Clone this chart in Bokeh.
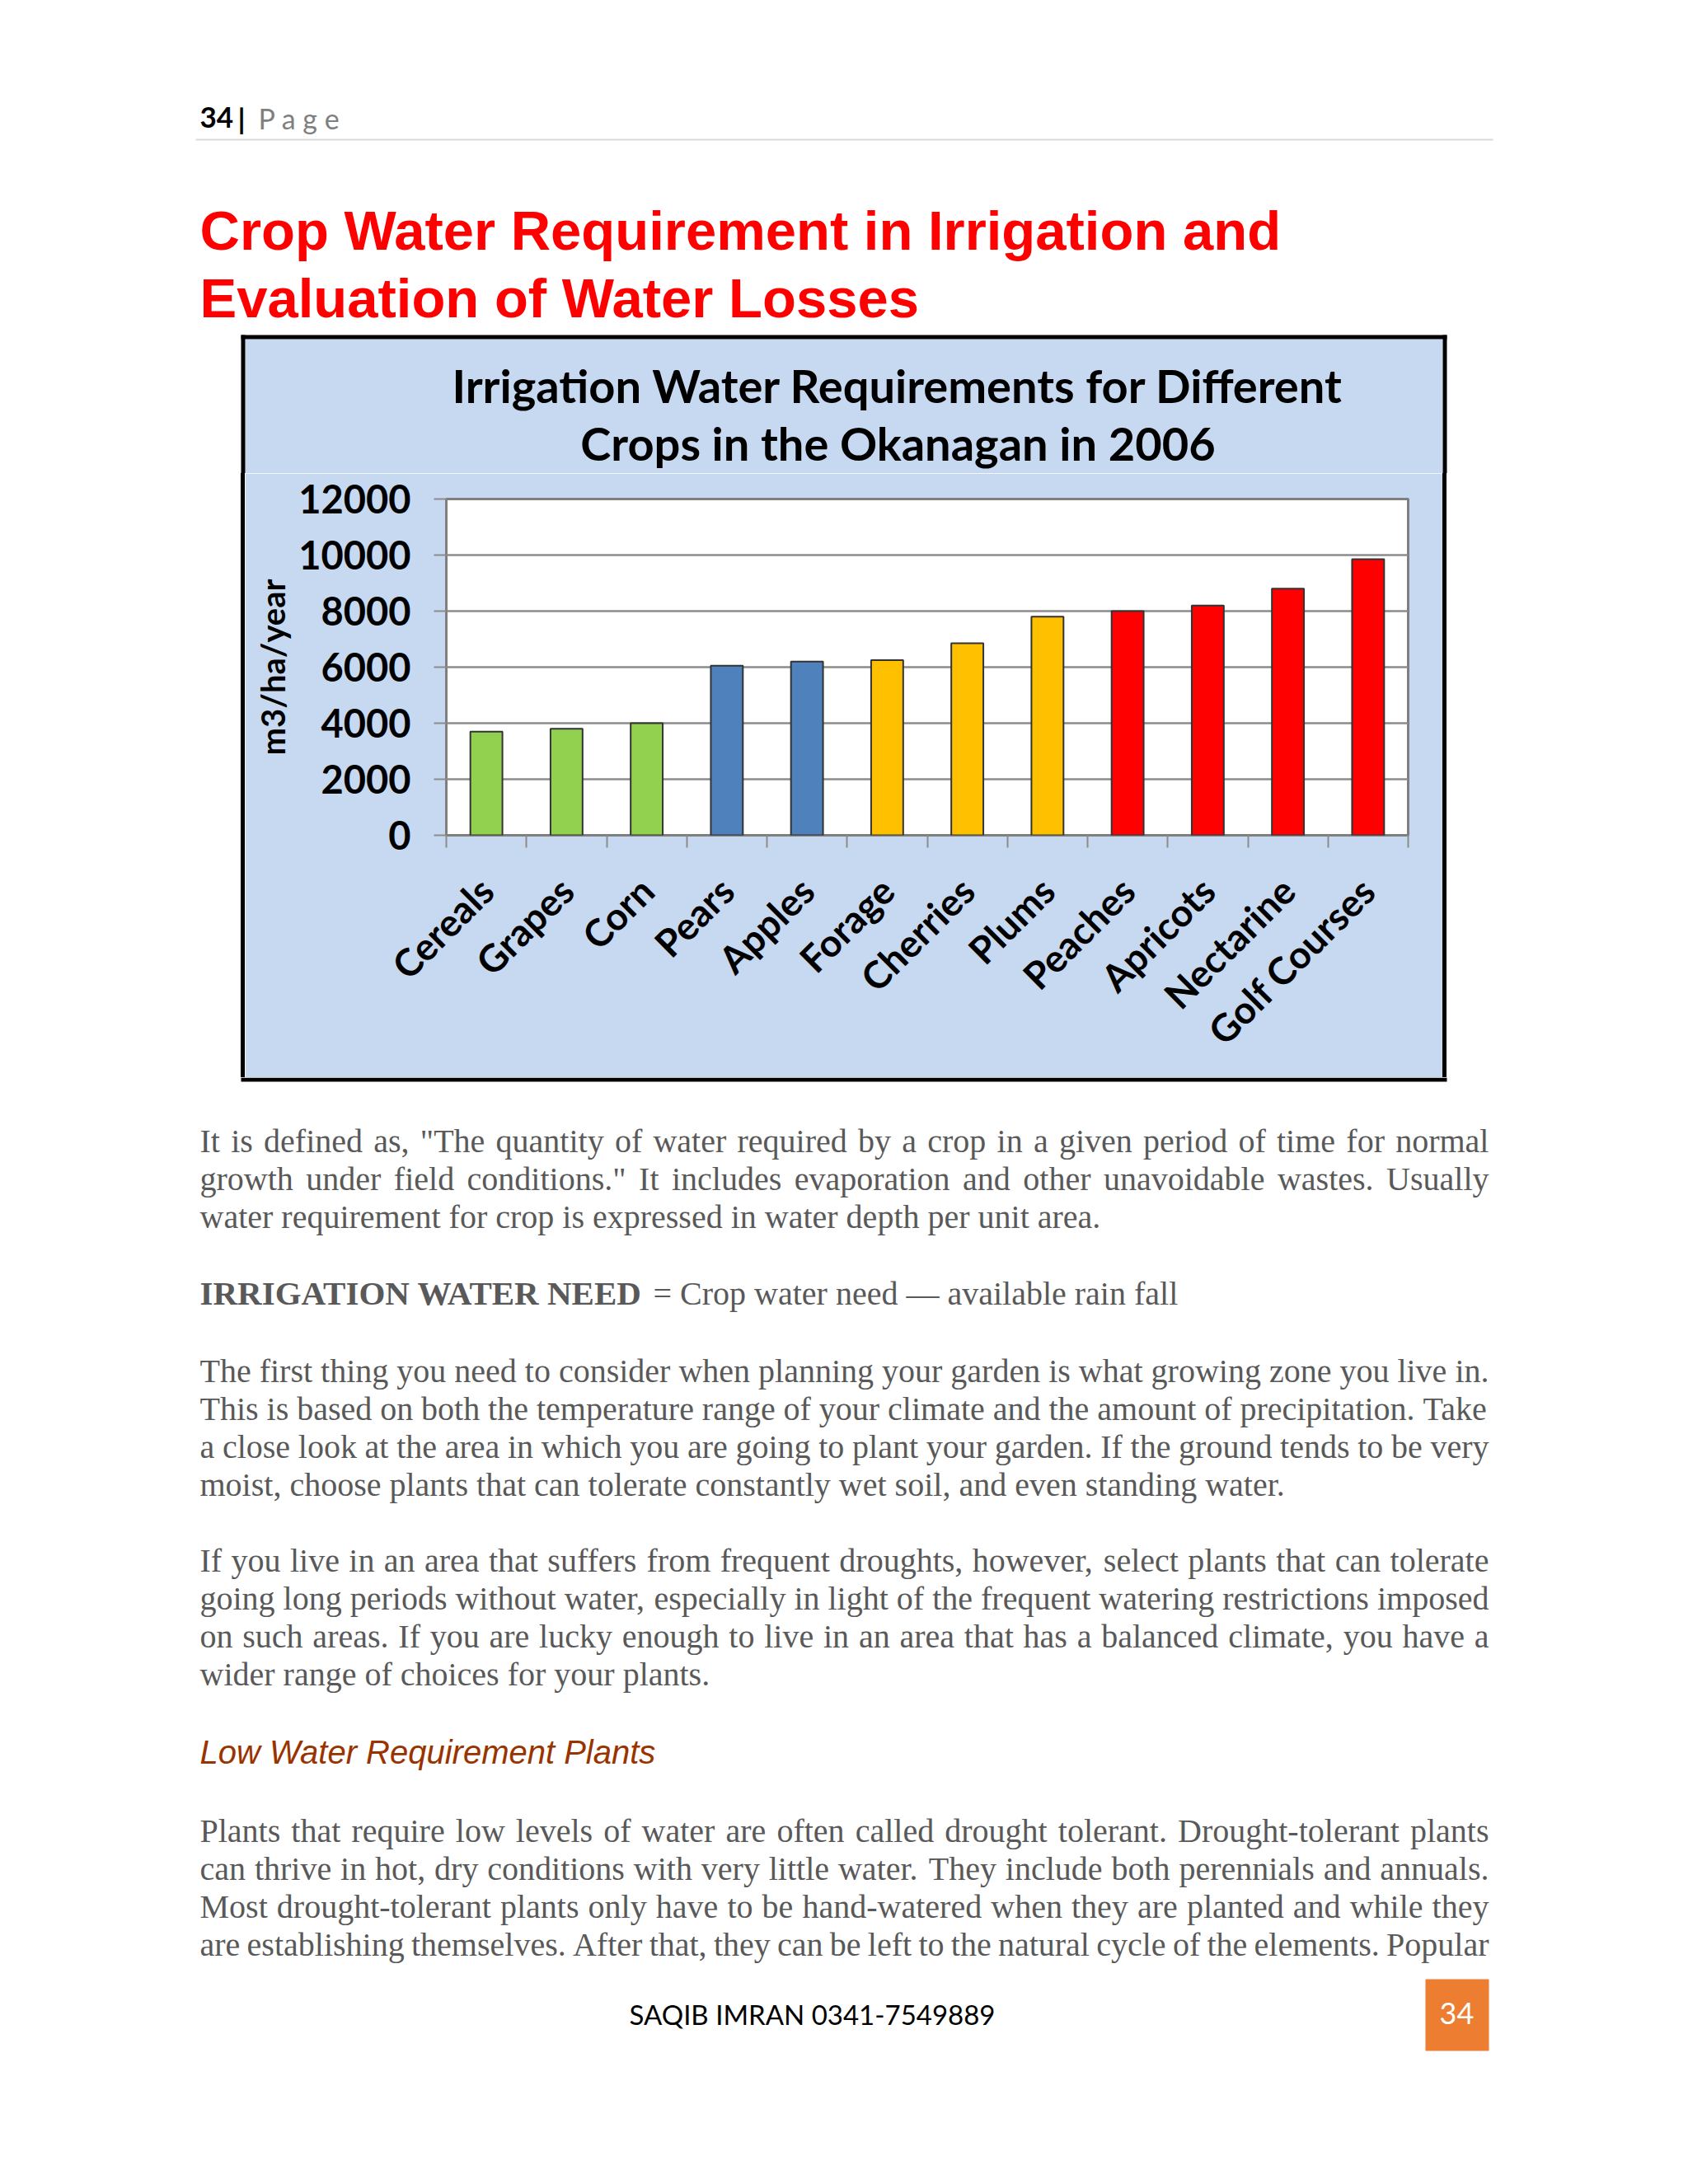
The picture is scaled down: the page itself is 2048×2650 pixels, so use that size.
from math import pi
from bokeh.plotting import figure
from bokeh.layouts import column, row
from bokeh.models import Range1d, LinearAxis, FixedTicker, Label, ColumnDataSource, Spacer
from bokeh.embed import file_html
from bokeh.resources import INLINE

# ---------------- data ----------------
crops = ["Cereals", "Grapes", "Corn", "Pears", "Apples", "Forage",
         "Cherries", "Plums", "Peaches", "Apricots", "Nectarine", "Golf Courses"]
water = [3700, 3800, 4000, 6050, 6200, 6250, 6850, 7800, 8000, 8200, 8800, 9850]
bar_colors = ["#92D050", "#92D050", "#92D050", "#4F81BD", "#4F81BD", "#FFC000",
              "#FFC000", "#FFC000", "#FF0000", "#FF0000", "#FF0000", "#FF0000"]
y_ticks = [0, 2000, 4000, 6000, 8000, 10000, 12000]
chart_title = ["Irrigation Water Requirements for Different",
               "Crops in the Okanagan in 2006"]
y_label = "m3/ha/year"

page_title = ["Crop Water Requirement in Irrigation and",
              "Evaluation of Water Losses"]
para1 = ['It is defined as, "The quantity of water required by a crop in a given period of time for normal',
         'growth under field conditions." It includes evaporation and other unavoidable wastes. Usually',
         'water requirement for crop is expressed in water depth per unit area.']
need_bold = "IRRIGATION WATER NEED"
need_rest = "= Crop water need \u2014 available rain fall"
para2 = ["The first thing you need to consider when planning your garden is what growing zone you live in.",
         "This is based on both the temperature range of your climate and the amount of precipitation. Take",
         "a close look at the area in which you are going to plant your garden. If the ground tends to be very",
         "moist, choose plants that can tolerate constantly wet soil, and even standing water."]
para3 = ["If you live in an area that suffers from frequent droughts, however, select plants that can tolerate",
         "going long periods without water, especially in light of the frequent watering restrictions imposed",
         "on such areas. If you are lucky enough to live in an area that has a balanced climate, you have a",
         "wider range of choices for your plants."]
heading = "Low Water Requirement Plants"
para4 = ["Plants that require low levels of water are often called drought tolerant. Drought-tolerant plants",
         "can thrive in hot, dry conditions with very little water. They include both perennials and annuals.",
         "Most drought-tolerant plants only have to be hand-watered when they are planted and while they",
         "are establishing themselves. After that, they can be left to the natural cycle of the elements. Popular"]
footer = "SAQIB IMRAN 0341-7549889"
page_no = "34"

# ---------------- page geometry (page pixels) ----------------
PW = 2048
BX0, BY0, BX1, BY1 = 292, 406, 1755, 1312   # chart box outer edge
BW = 5                                       # black border width
SPLIT1, SPLIT2, PAGE_END = 574, BY1 - BW, 2640
FL, FR, FT, FB = 541, 1708, 605, 1013        # plot area
BLUE = "#C6D9F1"
GRID = "#8c8c8c"
BASE_SHIFT = 0.36   # baseline correction (fraction of font size)


def page_fig(x0, x1, y0, y1):
    f = figure(width=x1 - x0, height=y1 - y0, x_range=Range1d(x0, x1), y_range=Range1d(y1, y0),
               x_axis_type=None, y_axis_type=None, toolbar_location=None,
               output_backend="svg", min_border=0, title=None)
    f.outline_line_color = None
    f.background_fill_color = "white"
    f.border_fill_color = "white"
    return f


def add_text(f, x, y, text, font, size, color, style="normal", align="left"):
    f.add_layout(Label(x=x, y=y - BASE_SHIFT * size, text=text, text_font=font,
                       text_font_size=f"{size}px",
                       text_color=color, text_font_style=style,
                       text_align=align, text_baseline="alphabetic"))


def add_rect(f, x0, y0, x1, y1, color):
    f.quad(left=x0, right=x1, top=y0, bottom=y1, fill_color=color, line_color=None)


# ---------------- top part of page ----------------
top = page_fig(0, PW, 0, SPLIT1)
add_text(top, 242, 155, "34", "Lato", 35, "black", "bold")
add_text(top, 288, 155, "|", "Lato", 35, "black", "bold")
add_text(top, 313, 155, "P a g e", "Lato", 34, "#7f7f7f")
add_rect(top, 237, 168, 1811, 170, "#D9D9D9")
add_text(top, 242, 303, page_title[0], "Liberation Sans", 67, "#FF0000", "bold")
add_text(top, 242, 385, page_title[1], "Liberation Sans", 67, "#FF0000", "bold")
# chart box: upper part
add_rect(top, BX0 + BW, BY0 + BW, BX1 - BW, SPLIT1, BLUE)
add_rect(top, BX0, BY0, BX1, BY0 + BW, "black")
add_rect(top, BX0, BY0, BX0 + BW, SPLIT1, "black")
add_rect(top, BX1 - BW, BY0, BX1, SPLIT1, "black")
add_text(top, 1089, 487, chart_title[0], "Lato", 56, "black", "bold", "center")
add_text(top, 1089, 557, chart_title[1], "Lato", 56, "black", "bold", "center")

# ---------------- side strips (chart box black edges) ----------------
left = Spacer(width=BX0 + BW, height=SPLIT2 - SPLIT1,
              styles={"background": f"linear-gradient(to right, #ffffff 0px, #ffffff {BX0}px, "
                                    f"#000000 {BX0}px, #000000 {BX0 + BW}px)"})
right = Spacer(width=PW - (BX1 - BW), height=SPLIT2 - SPLIT1,
               styles={"background": f"linear-gradient(to right, #000000 0px, #000000 {BW}px, "
                                     f"#ffffff {BW}px, #ffffff {PW}px)"})

# ---------------- the chart ----------------
n = len(crops)
centers = [i + 0.5 for i in range(n)]
src = ColumnDataSource(dict(x=centers, crop=crops, water=water, color=bar_colors))

chart = figure(width=(BX1 - BW) - (BX0 + BW), height=SPLIT2 - SPLIT1,
               x_range=Range1d(0, n), y_range=Range1d(0, 12000),
               output_backend="svg", toolbar_location=None, title=None,
               min_border_left=FL - (BX0 + BW), min_border_right=(BX1 - BW) - FR,
               min_border_top=FT - SPLIT1, min_border_bottom=SPLIT2 - FB)
chart.background_fill_color = "white"
chart.border_fill_color = BLUE
chart.outline_line_color = "#7f7f7f"
chart.outline_line_width = 3

chart.xgrid.visible = False
chart.ygrid.ticker = FixedTicker(ticks=y_ticks)
chart.ygrid.grid_line_color = GRID
chart.ygrid.grid_line_width = 2.5

chart.vbar(x="x", top="water", width=0.4, source=src,
           fill_color="color", line_color="#333333", line_width=2)

yax = chart.yaxis[0]
yax.ticker = FixedTicker(ticks=y_ticks)
yax.major_label_overrides = {t: str(t) for t in y_ticks}
yax.major_tick_out = 15
yax.major_tick_in = 0
yax.major_tick_line_color = GRID
yax.major_tick_line_width = 2
yax.minor_tick_line_color = None
yax.axis_line_color = None
yax.major_label_text_font = "Lato"
yax.major_label_text_font_style = "bold"
yax.major_label_text_font_size = "47px"
yax.major_label_text_color = "black"
yax.major_label_standoff = 28
yax.axis_label = y_label
yax.axis_label_text_font = "Lato"
yax.axis_label_text_font_style = "bold"
yax.axis_label_text_font_size = "40px"
yax.axis_label_text_color = "black"
yax.axis_label_standoff = 4

tick_axis = chart.xaxis[0]
tick_axis.ticker = FixedTicker(ticks=list(range(n + 1)))
tick_axis.major_tick_out = 15
tick_axis.major_tick_in = 0
tick_axis.major_tick_line_color = GRID
tick_axis.major_tick_line_width = 2
tick_axis.minor_tick_line_color = None
tick_axis.axis_line_color = None
tick_axis.major_label_text_font_size = "1px"
tick_axis.major_label_text_color = None
tick_axis.major_label_standoff = 0

label_axis = LinearAxis(ticker=FixedTicker(ticks=centers),
                        major_label_overrides={c: name for c, name in zip(centers, crops)},
                        major_tick_line_color=None, major_tick_out=0, major_tick_in=0,
                        minor_tick_line_color=None, axis_line_color=None,
                        major_label_orientation=pi / 4,
                        major_label_text_font="Lato", major_label_text_font_style="bold",
                        major_label_text_font_size="46px", major_label_text_color="black",
                        major_label_standoff=44)
chart.add_layout(label_axis, "below")

# ---------------- bottom part of page ----------------
bottom = page_fig(0, PW, SPLIT2, PAGE_END)
add_rect(bottom, BX0, SPLIT2, BX1, BY1, "black")

TIMES = {' ': 250, '!': 333, '"': 408, ',': 250, '-': 333, '.': 250, '=': 564,
         '\u2014': 1000, "'": 180,
         'A': 722, 'B': 667, 'C': 667, 'D': 722, 'E': 611, 'F': 556, 'G': 722, 'H': 722,
         'I': 333, 'J': 389, 'K': 722, 'L': 611, 'M': 889, 'N': 722, 'O': 722, 'P': 556,
         'Q': 722, 'R': 667, 'S': 556, 'T': 611, 'U': 722, 'V': 722, 'W': 944, 'X': 722,
         'Y': 722, 'Z': 611,
         'a': 444, 'b': 500, 'c': 444, 'd': 500, 'e': 444, 'f': 333, 'g': 500, 'h': 500,
         'i': 278, 'j': 278, 'k': 500, 'l': 278, 'm': 778, 'n': 500, 'o': 500, 'p': 500,
         'q': 500, 'r': 333, 's': 389, 't': 278, 'u': 500, 'v': 500, 'w': 722, 'x': 500,
         'y': 500, 'z': 444}
BODY = 40
BODY_C = "#595959"
X0, X1 = 242, 1806
LH = 46.2


def tw(s, table=TIMES, size=BODY):
    return sum(table.get(c, 500) for c in s) * size / 1000.0


def draw_para(lines, y0, justify_last=False):
    for i, line in enumerate(lines):
        y = y0 + i * LH
        if i == len(lines) - 1 and not justify_last:
            add_text(bottom, X0, y, line, "Liberation Serif", BODY, BODY_C)
            continue
        words = line.split(" ")
        total = sum(tw(w) for w in words)
        gap = (X1 - X0 - total) / (len(words) - 1)
        x = X0
        for w in words:
            add_text(bottom, x, y, w, "Liberation Serif", BODY, BODY_C)
            x += tw(w) + gap


draw_para(para1, 1398)
add_text(bottom, X0, 1583, need_bold, "Liberation Serif", 41, BODY_C, "bold")
add_text(bottom, 792, 1583, need_rest, "Liberation Serif", BODY, BODY_C)
draw_para(para2, 1677)
draw_para(para3, 1907)
add_text(bottom, X0, 2140, heading, "Liberation Sans", 40, "#993300", "italic")
draw_para(para4, 2235, justify_last=True)

add_text(bottom, 985, 2455, footer, "Lato", 33, "black", "normal", "center")
add_rect(bottom, 1729, 2401, 1806, 2488, "#ED7D31")
add_text(bottom, 1767, 2455, page_no, "Lato", 36, "white", "normal", "center")

layout = column(top, row(left, chart, right), bottom)
open("out.html", "w").write(file_html(layout, INLINE))
